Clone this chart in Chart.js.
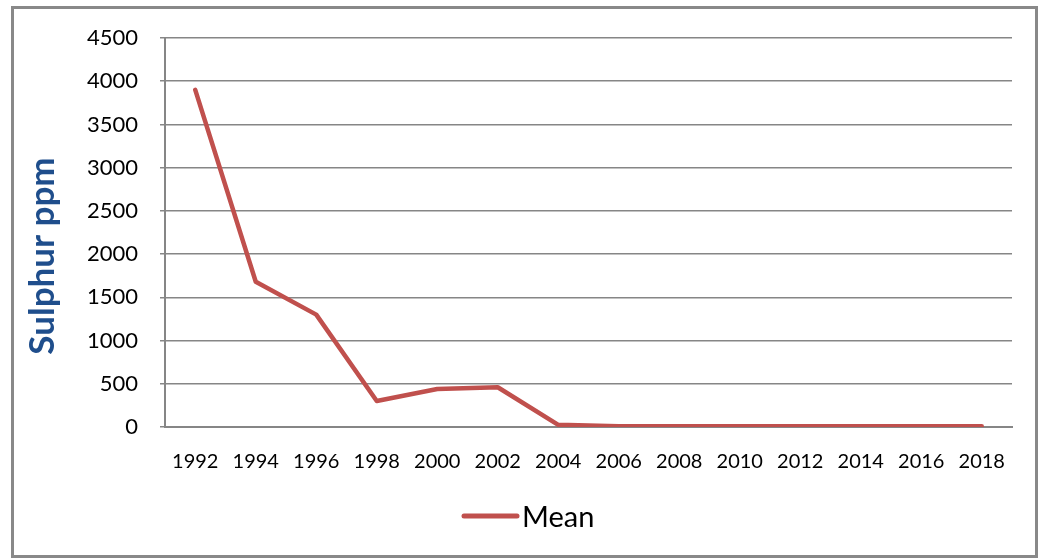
<!DOCTYPE html>
<html><head><meta charset="utf-8">
<script src="https://cdn.jsdelivr.net/npm/chart.js@4/dist/chart.umd.min.js"></script>
<style>
html,body{margin:0;padding:0;background:#fff;}
#wrap{position:absolute;left:0;top:0;width:1044px;height:558px;overflow:hidden;}
#frame{position:absolute;left:11px;top:6px;width:1027px;height:552px;border:3px solid #898989;box-sizing:border-box;}
canvas{position:absolute;left:0;top:0;}
</style></head>
<body>
<div id="wrap"><div id="frame"></div><canvas id="c" width="1044" height="558"></canvas></div>
<script>
const years = ['1992','1994','1996','1998','2000','2002','2004','2006','2008','2010','2012','2014','2016','2018'];
const meanSulphur = [3900, 1680, 1300, 300, 440, 460, 25, 10, 10, 10, 10, 10, 10, 10];
const yTicks = [0,500,1000,1500,2000,2500,3000,3500,4000,4500];
const seriesName = 'Mean';
const yTitle = 'Sulphur ppm';

const FONT = 'Lato, "Open Sans", sans-serif';

// Excel-style legend and axis title placement
const excelDecor = {
  id: 'excelDecor',
  afterDraw(chart) {
    const ctx = chart.ctx;
    const ds = chart.data.datasets[0];
    ctx.save();
    // legend
    ctx.strokeStyle = ds.borderColor;
    ctx.lineWidth = 5;
    ctx.lineCap = 'round';
    ctx.beginPath();
    ctx.moveTo(464, 516);
    ctx.lineTo(517, 516);
    ctx.stroke();
    ctx.fillStyle = '#000';
    ctx.font = '29px ' + FONT;
    ctx.textAlign = 'left';
    ctx.textBaseline = 'alphabetic';
    ctx.fillText(ds.label, 522, 527);
    // y axis title
    ctx.translate(43, 256);
    ctx.rotate(-Math.PI / 2);
    ctx.fillStyle = '#1F4E8C';
    ctx.font = 'bold 35px ' + FONT;
    ctx.textAlign = 'center';
    ctx.textBaseline = 'middle';
    ctx.fillText(yTitle, 0, 0);
    ctx.restore();
  }
};

new Chart(document.getElementById('c'), {
  type: 'line',
  data: {
    labels: years,
    datasets: [{
      label: seriesName,
      data: meanSulphur,
      borderColor: '#C0504D',
      backgroundColor: '#C0504D',
      borderWidth: 4.5,
      pointRadius: 0,
      tension: 0,
      borderCapStyle: 'round',
      borderJoinStyle: 'round'
    }]
  },
  plugins: [excelDecor],
  options: {
    responsive: false,
    animation: false,
    devicePixelRatio: 1,
    layout: { padding: { left: 65, right: 32, top: 38, bottom: 59 } },
    plugins: {
      tooltip: { enabled: false },
      legend: { display: false }
    },
    scales: {
      x: {
        offset: true,
        grid: { display: false, offset: true },
        border: { display: true, color: '#868686', width: 2 },
        ticks: { color: '#000', font: { family: FONT, size: 20 }, maxRotation: 0, autoSkip: false, padding: 15 },
        afterFit: s => { s.height = 72; }
      },
      y: {
        min: 0, max: 4500,
        afterBuildTicks: s => { s.ticks = yTicks.map(v => ({ value: v })); },
        grid: { color: '#868686', lineWidth: 1.5, tickLength: 5, drawTicks: true },
        border: { display: true, color: '#868686', width: 2 },
        ticks: { color: '#000', font: { family: FONT, size: 22 }, padding: 22, callback: v => String(v) },
        afterFit: s => { s.width = 100; }
      }
    }
  }
});
</script>
</body></html>
